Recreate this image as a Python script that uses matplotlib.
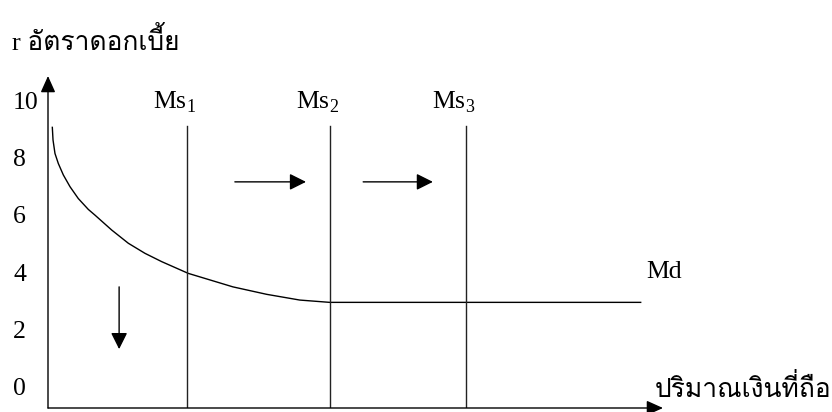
import matplotlib
matplotlib.use("Agg")
import matplotlib.pyplot as plt

plt.rcParams['font.family'] = ['Liberation Serif', 'Loma']
plt.rcParams['mathtext.fontset'] = 'custom'
plt.rcParams['mathtext.rm'] = 'Liberation Serif'

# --- data ---
y_ticks = [0, 2, 4, 6, 8, 10]
md_x = [0.031, 0.036, 0.050, 0.074, 0.110, 0.158, 0.217, 0.289, 0.337, 0.457,
        0.576, 0.695, 0.815, 1.006, 1.326, 1.568, 1.806, 2.02, 4.25]
md_y = [9.05, 8.61, 8.14, 7.79, 7.39, 6.98, 6.57, 6.19, 5.99, 5.47,
        5.01, 4.66, 4.37, 3.96, 3.49, 3.23, 3.03, 2.95, 2.95]
ms_x = [1.0, 2.02, 3.0]
ms_top = 9.1
ms_labels = ["Ms$_\\mathrm{1}$", "Ms$_\\mathrm{2}$", "Ms$_\\mathrm{3}$"]
shift_arrows = [(1.34, 1.85), (2.26, 2.76)]   # x start / end, money supply shifts right
shift_y = 7.15
rate_arrow = (0.51, 3.49, 1.32)              # x, y start, y end: rate falls

xlab = "ปริมาณเงินที่ถือ"
ylab = "r อัตราดอกเบี้ย"

W, H = 832, 412
fig = plt.figure(figsize=(W / 100, H / 100), dpi=100)
ax = fig.add_axes([48 / W, 4 / H, 615 / W, 332 / H])
ax.set_xlim(0, 4.41)
ax.set_ylim(-0.732, 10.84)
for s in ax.spines.values():
    s.set_visible(False)

# axes drawn as arrows
head = dict(arrowstyle='-|>,head_length=1.0,head_width=0.45', mutation_scale=10,
            color='black', lw=1.0, shrinkA=0, shrinkB=0)
ax.annotate("", xy=(0, 1), xytext=(0, 0), xycoords='axes fraction', arrowprops=head)
ax.annotate("", xy=(1, 0), xytext=(0, 0), xycoords='axes fraction', arrowprops=head)

ax.set_xticks([])
ax.set_yticks(y_ticks)
ax.set_yticklabels([str(v) for v in y_ticks], ha='left')
ax.tick_params(axis='y', length=0, pad=25.2, labelsize=18.5)

# Md curve
ax.plot(md_x, md_y, color='black', lw=1.0)
ax.text(4.29, 4.0, "Md", fontsize=18.5, va='center', ha='left')

# money supply lines
for x, lab in zip(ms_x, ms_labels):
    ax.plot([x, x], [ax.get_ylim()[0], ms_top], color='#222222', lw=1.0)
    ax.text(x - 0.245, 9.69, lab, fontsize=18.5, va='baseline', ha='left')

arr = dict(arrowstyle='-|>,head_length=1.0,head_width=0.5', mutation_scale=10,
           color='black', lw=1.0, shrinkA=0, shrinkB=0)
for x0, x1 in shift_arrows:
    ax.annotate("", xy=(x1, shift_y), xytext=(x0, shift_y), arrowprops=arr)
ax.annotate("", xy=(rate_arrow[0], rate_arrow[2]), xytext=(rate_arrow[0], rate_arrow[1]),
            arrowprops=arr)

# Thai labels: Loma stacks the tone marks over the upper vowels
fig.text(12 / W, 1 - 50 / H, ylab, fontsize=19, va='baseline', ha='left',
         family=['Liberation Serif', 'Loma'])
fig.text(655 / W, 1 - 397 / H, xlab, fontsize=19, va='baseline', ha='left',
         family=['Loma', 'Liberation Serif'])

fig.savefig("out.png", dpi=100)
